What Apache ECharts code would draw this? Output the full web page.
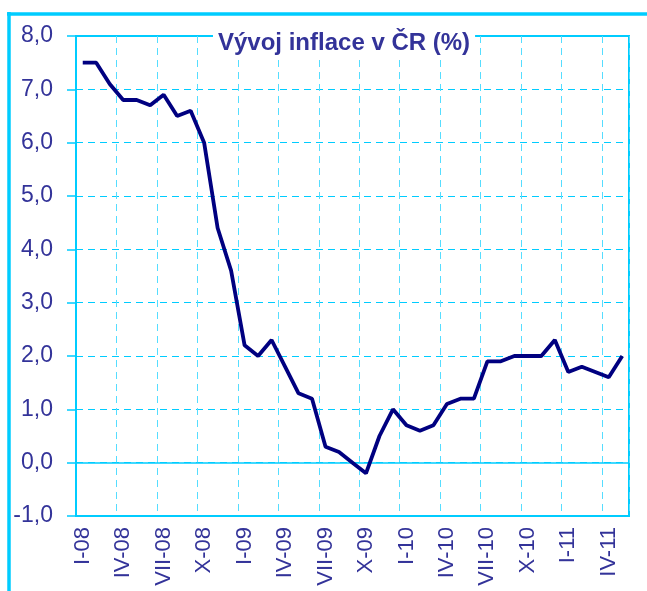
<!DOCTYPE html>
<html>
<head>
<meta charset="utf-8">
<script src="https://cdn.jsdelivr.net/npm/echarts@6/dist/echarts.min.js"></script>
<style>
  html, body { margin: 0; padding: 0; background: #fff; }
  #main { width: 647px; height: 591px; }
</style>
</head>
<body>
<div id="main"></div>
<script>
// monthly categories, I-08 .. V-11
const months = [
    'I-08', 'II-08', 'III-08', 'IV-08', 'V-08', 'VI-08', 'VII-08', 'VIII-08', 'IX-08', 'X-08', 'XI-08', 'XII-08',
    'I-09', 'II-09', 'III-09', 'IV-09', 'V-09', 'VI-09', 'VII-09', 'VIII-09', 'IX-09', 'X-09', 'XI-09', 'XII-09',
    'I-10', 'II-10', 'III-10', 'IV-10', 'V-10', 'VI-10', 'VII-10', 'VIII-10', 'IX-10', 'X-10', 'XI-10', 'XII-10',
    'I-11', 'II-11', 'III-11', 'IV-11', 'V-11'
];
// inflace (%)
const inflation = [
    7.5, 7.5, 7.1, 6.8, 6.8, 6.7, 6.9, 6.5, 6.6, 6.0, 4.4, 3.6,
    2.2, 2.0, 2.3, 1.8, 1.3, 1.2, 0.3, 0.2, 0.0, -0.2, 0.5, 1.0,
    0.7, 0.6, 0.7, 1.1, 1.2, 1.2, 1.9, 1.9, 2.0, 2.0, 2.0, 2.3,
    1.7, 1.8, 1.7, 1.6, 2.0
];
const titleText = 'Vývoj inflace v ČR (%)';

const cyan = '#00CCFF';
const labelColor = '#333399';

const chart = echarts.init(document.getElementById('main'), null, { renderer: 'canvas' });

const option = {
    animation: false,
    backgroundColor: '#fff',
    title: {
        text: titleText,
        left: 213,
        top: 28,
        padding: [2, 5],
        backgroundColor: '#fff',
        textStyle: {
            fontFamily: 'Liberation Sans, Arial, sans-serif',
            fontWeight: 'bold',
            fontSize: 24,
            lineHeight: 26,
            color: labelColor
        }
    },
    grid: {
        left: 76,
        right: 18,
        top: 36,
        bottom: 75,
        outerBoundsMode: 'none',
        containLabel: false,
        show: true,
        borderColor: cyan,
        borderWidth: 2,
        backgroundColor: 'transparent'
    },
    graphic: [
        {
            type: 'line',
            shape: { x1: 7, y1: 14, x2: 647, y2: 14 },
            style: { stroke: cyan, lineWidth: 3.5 }
        },
        {
            type: 'line',
            shape: { x1: 9, y1: 12, x2: 9, y2: 591 },
            style: { stroke: cyan, lineWidth: 3.5 }
        }
    ],
    xAxis: {
        type: 'category',
        data: months,
        boundaryGap: true,
        axisLine: { onZero: false, lineStyle: { color: cyan, width: 2 } },
        axisTick: { show: false },
        axisLabel: {
            interval: 2,
            rotate: 90,
            margin: 11,
            color: labelColor,
            fontFamily: 'Liberation Sans, Arial, sans-serif',
            fontSize: 22
        },
        splitLine: {
            show: true,
            interval: 2,
            lineStyle: { color: '#55DDFF', width: 1, type: [7, 5] }
        }
    },
    yAxis: {
        type: 'value',
        min: -1,
        max: 8,
        interval: 1,
        axisLine: { show: true, lineStyle: { color: cyan, width: 2 } },
        axisTick: { show: true, inside: false, length: 9, lineStyle: { color: cyan, width: 1.5 } },
        axisLabel: {
            margin: 23,
            color: labelColor,
            fontFamily: 'Liberation Sans, Arial, sans-serif',
            fontSize: 23,
            formatter: function (v) { return v.toFixed(1).replace('.', ','); }
        },
        splitLine: {
            show: true,
            lineStyle: { color: cyan, width: 1, type: [7, 5] }
        }
    },
    series: [
        {
            // zero line drawn beneath the data line
            type: 'line',
            data: [],
            z: 1,
            silent: true,
            markLine: {
                silent: true,
                symbol: 'none',
                label: { show: false },
                lineStyle: { color: cyan, width: 1.5, type: 'solid' },
                data: [{ yAxis: 0 }]
            }
        },
        {
            name: 'inflace',
            type: 'line',
            data: inflation,
            z: 5,
            symbol: 'none',
            lineStyle: { color: '#000080', width: 3.8 }
        }
    ]
};

chart.setOption(option);
</script>
</body>
</html>
